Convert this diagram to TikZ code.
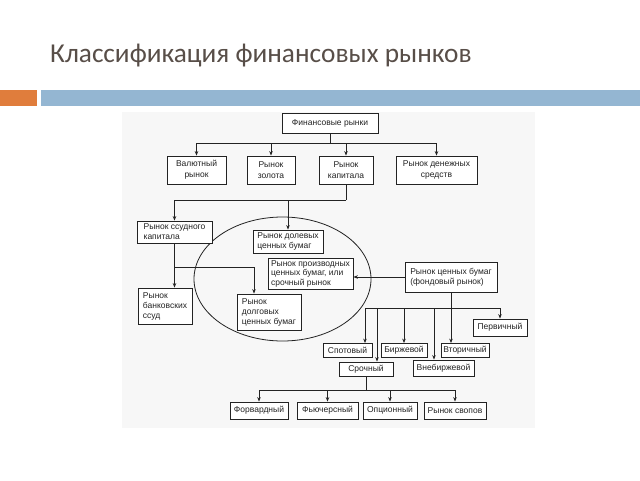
\documentclass[tikz,border=0pt]{standalone}
\usepackage{fontspec}
\setmainfont{Liberation Sans}
\newfontfamily\titlefont{Carlito}
\usetikzlibrary{arrows.meta,shapes.geometric}
\definecolor{titlecol}{RGB}{88,78,72}
\definecolor{barorange}{RGB}{224,125,60}
\definecolor{barblue}{RGB}{148,182,210}
\definecolor{ink}{RGB}{35,35,35}
\definecolor{scanbg}{RGB}{247,247,247}
\begin{document}
\begin{tikzpicture}[x=1pt,y=-1pt,
  box/.style={draw=ink, fill=white, line width=0.8pt, text=ink, inner sep=0pt,
    font=\fontsize{8.5}{10}\selectfont, align=center},
  lbox/.style={box, align=left},
  conn/.style={draw=ink, line width=0.8pt},
  arr/.style={conn, -{Stealth[length=4.5pt,width=3.5pt]}}]
\useasboundingbox (0,0) rectangle (640,480);
\fill[white] (0,0) rectangle (640,480);
% title and bars
\node[anchor=base west, inner sep=0pt, text=titlecol, font=\titlefont\fontsize{27.3}{30}\selectfont] (title) at (50,62) {Классификация финансовых рынков};
\fill[barorange] (0,90) rectangle (37,106);
\fill[barblue] (41,90) rectangle (640,106);
% scanned area
\fill[scanbg] (122,112) rectangle (535,428);
% ellipse
\node[draw=ink, line width=0.8pt, ellipse, minimum width=177, minimum height=124, inner sep=0pt] (ell) at (282.5,279) {};
% nodes
\node[box, minimum width=96, minimum height=20] (fin) at (330,123) {Финансовые рынки};
\node[box, minimum width=59, minimum height=28, font=\fontsize{8.5}{11}\selectfont] (val) at (196.5,170) {Валютный\\рынок};
\node[box, minimum width=48, minimum height=28, font=\fontsize{8.5}{11}\selectfont] (gold) at (271,170) {Рынок\\золота};
\node[box, minimum width=54, minimum height=28, font=\fontsize{8.5}{11}\selectfont] (cap) at (346,170) {Рынок\\капитала};
\node[box, minimum width=81, minimum height=28, font=\fontsize{8.5}{11}\selectfont] (money) at (436.5,170) {Рынок денежных\\средств};
\node[lbox, minimum width=75, minimum height=22] (ssud) at (174.5,232) {Рынок ссудного\\капитала};
\node[lbox, minimum width=70, minimum height=23] (dol) at (288,241.5) {Рынок долевых\\ценных бумаг};
\node[lbox, minimum width=85, minimum height=31, font=\fontsize{8.5}{9.5}\selectfont] (deriv) at (310.5,273.5) {Рынок производных\\ценных бумаг, или\\срочный рынок};
\node[lbox, minimum width=92, minimum height=30] (sec) at (451,277) {Рынок ценных бумаг\\(фондовый рынок)};
\node[lbox, minimum width=54, minimum height=36] (bank) at (165,306) {Рынок\\банковских\\ссуд};
\node[lbox, minimum width=64, minimum height=36] (dolg) at (269,312) {Рынок\\долговых\\ценных бумаг};
\node[box, minimum width=54, minimum height=17] (perv) at (500,327.5) {Первичный};
\node[box, minimum width=49, minimum height=14] (spot) at (347.5,350.5) {Спотовый};
\node[box, minimum width=46, minimum height=14] (birzh) at (404,350.5) {Биржевой};
\node[box, minimum width=48, minimum height=14] (vtor) at (465,350.5) {Вторичный};
\node[box, minimum width=54, minimum height=14] (sroch) at (366,369) {Срочный};
\node[box, minimum width=61, minimum height=16] (vneb) at (443.5,368) {Внебиржевой};
\node[box, minimum width=58, minimum height=17] (forw) at (259,410.5) {Форвардный};
\node[box, minimum width=61, minimum height=17] (fut) at (327.5,410.5) {Фьючерсный};
\node[box, minimum width=54, minimum height=17] (opt) at (390,410.5) {Опционный};
\node[box, minimum width=62, minimum height=17] (swap) at (455,410.5) {Рынок свопов};
% connectors: top level
\coordinate (j1) at (330,143);
\draw[conn] (fin.south) -- (j1);
\draw[arr] (j1) -| (val.north);
\draw[arr] (j1) -| (gold.north);
\draw[arr] (j1) -| (cap.north);
\draw[arr] (j1) -| (money.north);
% capital
\coordinate (j2) at (346,200);
\draw[conn] (cap.south) -- (j2);
\draw[arr] (j2) -| (ssud.north);
\draw[arr] (j2 -| dol.north) -- (dol.north);
% loan capital
\draw[arr] (ssud.south) -- (ssud.south |- bank.north);
\coordinate (j3) at (174.5,267);
\coordinate (j3b) at (254,267);
\draw[arr] (j3) -- (j3b) -- (j3b |- dolg.north);
% securities market
\draw[arr] (sec.west) -- (sec.west -| deriv.east);
\draw[arr] (sec.south) -- (sec.south |- vtor.north);
\coordinate (bl) at (365,308);
\coordinate (bs) at (377,308);
\coordinate (bb) at (404,308);
\coordinate (bv) at (434,308);
\coordinate (br) at (500,308);
\draw[conn] (bl) -- (br);
\draw[arr] (bl) -- (bl |- spot.north);
\draw[arr] (bs) -- (bs |- sroch.north);
\draw[arr] (bb) -- (birzh.north);
\draw[arr] (bv) -- (bv |- vneb.north);
\draw[arr] (br) -- (perv.north);
% derivatives types
\coordinate (j4) at (366,390);
\draw[conn] (sroch.south) -- (j4);
\draw[arr] (j4) -| (forw.north);
\draw[arr] (j4) -| (fut.north);
\draw[arr] (j4) -| (opt.north);
\draw[arr] (j4) -| (swap.north);
\end{tikzpicture}
\end{document}
